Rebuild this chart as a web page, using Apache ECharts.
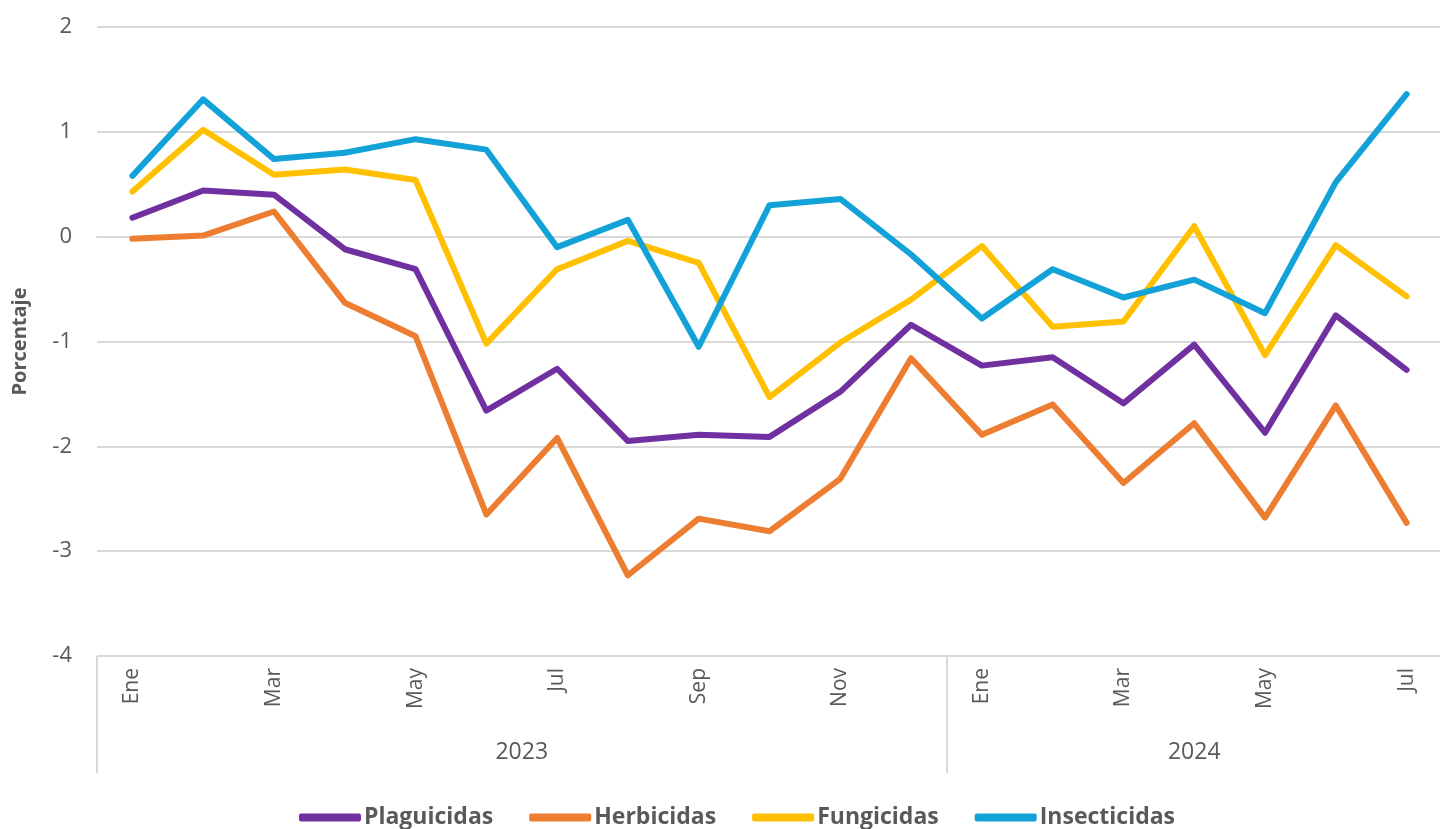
<!DOCTYPE html>
<html><head><meta charset="utf-8">
<script src="https://cdn.jsdelivr.net/npm/echarts@6/dist/echarts.min.js"></script>
<style>html,body{margin:0;padding:0;background:#fff}#c{width:1440px;height:829px}</style>
</head><body><div id="c"></div>
<script>
const months = ['Ene','Feb','Mar','Abr','May','Jun','Jul','Ago','Sep','Oct','Nov','Dic','Ene','Feb','Mar','Abr','May','Jun','Jul'];
const years = ['2023','2024'];
const yearCenters = [5.5, 15];
const yearBounds = [-0.5, 11.5, 18.5];
const plaguicidas = [0.18,0.44,0.40,-0.12,-0.31,-1.66,-1.26,-1.95,-1.89,-1.91,-1.48,-0.84,-1.23,-1.15,-1.59,-1.03,-1.87,-0.75,-1.27];
const herbicidas = [-0.02,0.01,0.24,-0.63,-0.95,-2.65,-1.92,-3.23,-2.69,-2.81,-2.31,-1.16,-1.89,-1.60,-2.35,-1.78,-2.68,-1.61,-2.73];
const fungicidas = [0.43,1.02,0.59,0.64,0.54,-1.02,-0.31,-0.04,-0.25,-1.53,-1.01,-0.60,-0.09,-0.86,-0.81,0.10,-1.13,-0.08,-0.57];
const insecticidas = [0.58,1.31,0.74,0.80,0.93,0.83,-0.10,0.16,-1.05,0.30,0.36,-0.17,-0.78,-0.31,-0.58,-0.41,-0.73,0.52,1.36];
const names = ['Plaguicidas','Herbicidas','Fungicidas','Insecticidas'];
const colors = ['#7030A0','#ED7D31','#FFC000','#12A2D8'];
const FONT = '"Open Sans", Lato, sans-serif';
const TXT = '#595959';
const chart = echarts.init(document.getElementById('c'));
const mk = (n, d, c) => ({name:n, type:'line', data:d, xAxisIndex:0, yAxisIndex:0, symbol:'none', lineStyle:{width:6, color:c, cap:'round', join:'round'}, itemStyle:{color:c}});
chart.setOption({
  animation:false,
  textStyle:{fontFamily:FONT},
  grid:{left:97, top:27, width:1345, height:629, outerBoundsMode:'none', containLabel:false},
  legend:{bottom:-5, left:294, itemWidth:62, itemHeight:8, itemGap:36,
    data:names.map(n=>({name:n, icon:'roundRect'})),
    textStyle:{fontFamily:FONT, fontSize:23, fontWeight:'bold', color:TXT, padding:[0,0,0,-2]}},
  xAxis:[{
    type:'category', data:months, boundaryGap:true,
    axisLine:{show:true, lineStyle:{color:'#d9d9d9', width:2}},
    axisTick:{show:false},
    axisLabel:{interval:1, rotate:90, fontSize:21, color:TXT, fontFamily:FONT, margin:12}
  },{
    type:'value', min:-0.5, max:18.5, position:'bottom',
    axisLine:{show:false}, splitLine:{show:false},
    axisTick:{show:true, customValues:yearBounds, length:117, lineStyle:{color:'#d9d9d9', width:2}},
    axisLabel:{show:true, customValues:yearCenters, margin:85, fontSize:23, color:TXT, fontFamily:FONT,
      formatter:(v)=>{const i=yearCenters.indexOf(v); return i>=0?years[i]:'';}}
  }],
  yAxis:{type:'value', min:-4, max:2, interval:1,
    name:'Porcentaje', nameLocation:'middle', nameGap:67,
    nameTextStyle:{fontFamily:FONT, fontSize:20, fontWeight:'bold', color:TXT},
    axisLine:{show:false}, axisTick:{show:false},
    axisLabel:{fontSize:22, color:TXT, fontFamily:FONT, margin:25},
    splitLine:{lineStyle:{color:'#d9d9d9', width:2}}},
  series:[mk(names[0],plaguicidas,colors[0]),mk(names[1],herbicidas,colors[1]),mk(names[2],fungicidas,colors[2]),mk(names[3],insecticidas,colors[3])]
});
</script></body></html>
